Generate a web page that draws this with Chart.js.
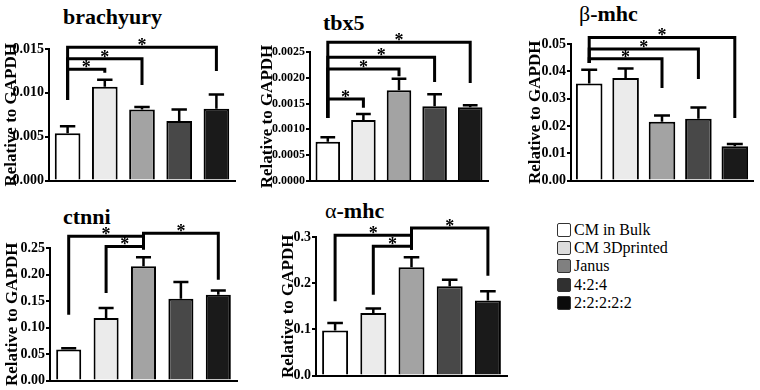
<!DOCTYPE html>
<html>
<head>
<meta charset="utf-8">
<script src="https://cdn.jsdelivr.net/npm/chart.js@4"></script>
<style>
  body { margin: 0; background: #fff; width: 760px; height: 390px; position: relative; overflow: hidden; font-family: "Liberation Serif", "Times New Roman", serif; }
  .panel { position: absolute; }
  .title { position: absolute; font-weight: bold; font-size: 22px; line-height: 22px; white-space: nowrap; color: #000; }
  .title .greek { font-weight: normal; }
  #legend { position: absolute; left: 557px; top: 221px; font-size: 16px; color: #000; font-family: "Liberation Serif", serif; }
  .row { display: flex; align-items: center; height: 18.2px; }
  .box { width: 12px; height: 12px; border: 1px solid #333; border-radius: 2px; margin-right: 3px; box-sizing: content-box; }
</style>
</head>
<body>

<div class="title" style="left:63px; top:6px;">brachyury</div>
<div class="title" style="left:323px; top:12px;">tbx5</div>
<div class="title" style="left:579px; top:3px;"><span class="greek">β</span>-mhc</div>
<div class="title" style="left:63px; top:206px;">ctnni</div>
<div class="title" style="left:325px; top:200px;"><span class="greek">α</span>-mhc</div>

<div id="legend"></div>

<div class="panel" id="p-brachyury"><canvas></canvas></div>
<div class="panel" id="p-tbx5"><canvas></canvas></div>
<div class="panel" id="p-bmhc"><canvas></canvas></div>
<div class="panel" id="p-ctnni"><canvas></canvas></div>
<div class="panel" id="p-amhc"><canvas></canvas></div>

<script>
const groups = ['CM in Bulk', 'CM 3Dprinted', 'Janus', '4:2:4', '2:2:2:2:2'];
const barColors = ['#ffffff', '#ebebeb', '#a3a3a3', '#484848', '#1a1a1a'];
const legendColors = ['#ffffff', '#dcdcdc', '#808080', '#303030', '#0b0b0b'];

// mean, sem (upper error), significance brackets [from, to, level, fromEnd, toEnd]
const brachyuryMean = [0.0054, 0.0107, 0.0081, 0.0068, 0.0082];
const brachyurySem = [0.0008, 0.0008, 0.0003, 0.0013, 0.0016];
const brachyurySig = [[0, 4, 0.0152, 0.0092, 0.0125], [0, 2, 0.0139, 0.0092, 0.0109], [0, 1, 0.0127, 0.0092, 0.0123]];
const brachyuryTicks = ['0.000', '0.005', '0.010', '0.015'];

const tbx5Mean = [0.00076, 0.00118, 0.00176, 0.00145, 0.00143];
const tbx5Sem = [0.00009, 0.00012, 0.00022, 0.00023, 0.00004];
const tbx5Sig = [[0, 4, 0.00269, 0.00122, 0.0019], [0, 3, 0.0024, 0.00122, 0.00192], [0, 2, 0.00217, 0.00122, 0.00203], [0, 1, 0.00159, 0.00122, 0.00142]];
const tbx5Ticks = ['0.0000', '0.0005', '0.0010', '0.0015', '0.0020', '0.0025'];

const bmhcMean = [0.0355, 0.0376, 0.0215, 0.0226, 0.0126];
const bmhcSem = [0.0051, 0.0034, 0.0023, 0.0042, 0.0008];
const bmhcSig = [[0, 4, 0.0524, 0.043, 0.0229], [0, 3, 0.0482, 0.043, 0.0372], [0, 2, 0.0446, 0.043, 0.0339]];
const bmhcTicks = ['0.00', '0.01', '0.02', '0.03', '0.04', '0.05'];

const ctnniMean = [0.0584, 0.118, 0.2155, 0.1545, 0.162];
const ctnniSem = [0.0025, 0.019, 0.017, 0.0315, 0.008];
const ctnniSig = [[0, 2, 0.272, 0.124, 0.272], [1, 2, 0.253, 0.165, 0.247], [2, 4, 0.278, 0.247, 0.190]];
const ctnniTicks = ['0.00', '0.05', '0.10', '0.15', '0.20', '0.25'];

const amhcMean = [0.0974, 0.1356, 0.2344, 0.1933, 0.1623];
const amhcSem = [0.0165, 0.0094, 0.0216, 0.0144, 0.0202];
const amhcSig = [[0, 2, 0.3036, 0.161, 0.3036], [1, 2, 0.280, 0.175, 0.2726], [2, 4, 0.3195, 0.2726, 0.2163]];
const amhcTicks = ['0.0', '0.1', '0.2', '0.3'];

// where each plot area sits on the page
const panels = [
  { id: 'p-brachyury', mean: brachyuryMean, sem: brachyurySem, sig: brachyurySig, ticks: brachyuryTicks, left: 49, top: 49, right: 235, bottom: 181, axisW: 48, bar: 0.69, tickSize: 14 },
  { id: 'p-tbx5', mean: tbx5Mean, sem: tbx5Sem, sig: tbx5Sig, ticks: tbx5Ticks, left: 310, top: 52, right: 488, bottom: 181, axisW: 53, bar: 0.69, tickSize: 12 },
  { id: 'p-bmhc', mean: bmhcMean, sem: bmhcSem, sig: bmhcSig, ticks: bmhcTicks, left: 571, top: 44, right: 753, bottom: 181, axisW: 46, bar: 0.73, tickSize: 14 },
  { id: 'p-ctnni', mean: ctnniMean, sem: ctnniSem, sig: ctnniSig, ticks: ctnniTicks, left: 50, top: 248, right: 237, bottom: 381, axisW: 48, bar: 0.67, tickSize: 14 },
  { id: 'p-amhc', mean: amhcMean, sem: amhcSem, sig: amhcSig, ticks: amhcTicks, left: 316, top: 237, right: 507, bottom: 376, axisW: 38, bar: 0.68, tickSize: 14 },
];

const padTop = 30;
const padBottom = 9;
const padRight = 4;
const serif = "'Liberation Serif', 'Times New Roman', serif";

function makeMarks(mean, sem, sig) {
  return {
    id: 'marks',
    afterDatasetsDraw(chart) {
      const ctx = chart.ctx;
      const y = chart.scales.y;
      const bars = chart.getDatasetMeta(0).data;

      ctx.save();
      ctx.strokeStyle = '#000';
      ctx.fillStyle = '#000';

      // error bars
      ctx.lineWidth = 2.5;
      bars.forEach(function (b, i) {
        const top = y.getPixelForValue(mean[i] + sem[i]);
        const half = b.width * 0.3;
        ctx.beginPath();
        ctx.moveTo(b.x, b.y);
        ctx.lineTo(b.x, top);
        ctx.moveTo(b.x - half, top);
        ctx.lineTo(b.x + half, top);
        ctx.stroke();
      });

      // significance brackets
      ctx.lineWidth = 3;
      ctx.lineJoin = 'miter';
      ctx.font = 'bold 18px ' + serif;
      ctx.textAlign = 'center';
      ctx.textBaseline = 'alphabetic';
      sig.forEach(function (s) {
        const x0 = bars[s[0]].x;
        const x1 = bars[s[1]].x;
        const level = y.getPixelForValue(s[2]);
        ctx.beginPath();
        ctx.moveTo(x0, y.getPixelForValue(s[3]));
        ctx.lineTo(x0, level);
        ctx.lineTo(x1, level);
        ctx.lineTo(x1, y.getPixelForValue(s[4]));
        ctx.stroke();
        ctx.fillText('*', (x0 + x1) / 2, level + 4);
      });
      ctx.restore();
    },
  };
}

function drawPanel(p) {
  const box = document.getElementById(p.id);
  const boxLeft = p.left - p.axisW;
  const boxTop = p.top - padTop;
  box.style.left = boxLeft + 'px';
  box.style.top = boxTop + 'px';
  box.style.width = (p.right - boxLeft + padRight) + 'px';
  box.style.height = (p.bottom - boxTop + padBottom) + 'px';

  const labels = p.ticks;
  new Chart(box.querySelector('canvas'), {
    type: 'bar',
    data: {
      labels: groups,
      datasets: [
        {
          data: p.mean,
          backgroundColor: barColors,
          borderColor: '#000',
          borderWidth: 2,
          barPercentage: 1,
          categoryPercentage: p.bar,
        },
      ],
    },
    options: {
      responsive: true,
      maintainAspectRatio: false,
      animation: false,
      devicePixelRatio: 1,
      layout: { padding: { left: 0, top: padTop, right: padRight, bottom: padBottom } },
      plugins: { legend: { display: false }, tooltip: { enabled: false } },
      scales: {
        x: {
          afterFit: function (s) { s.height = 0; },
          grid: { display: false },
          ticks: { display: false },
          border: { color: '#000', width: 2 },
        },
        y: {
          min: 0,
          max: parseFloat(labels[labels.length - 1]),
          afterFit: function (s) { s.width = p.axisW; },
          afterBuildTicks: function (s) {
            s.ticks = labels.map(function (t) { return { value: parseFloat(t) }; });
          },
          border: { color: '#000', width: 2 },
          grid: { display: true, drawOnChartArea: false, drawTicks: true, tickLength: 4, color: '#000', lineWidth: 2 },
          ticks: {
            color: '#000',
            padding: 1,
            font: { family: serif, weight: 'bold', size: p.tickSize },
            callback: function (v, i) { return labels[i]; },
          },
          title: {
            display: true,
            text: 'Relative to GAPDH',
            color: '#000',
            padding: { top: 0, bottom: 0 },
            font: { family: serif, weight: 'bold', size: 17 },
          },
        },
      },
    },
    plugins: [makeMarks(p.mean, p.sem, p.sig)],
  });
}

panels.forEach(drawPanel);

const legend = document.getElementById('legend');
for (let i = 0; i < groups.length; i++) {
  const row = document.createElement('div');
  row.className = 'row';
  const sw = document.createElement('span');
  sw.className = 'box';
  sw.style.background = legendColors[i];
  const label = document.createElement('span');
  label.textContent = groups[i];
  row.appendChild(sw);
  row.appendChild(label);
  legend.appendChild(row);
}
</script>
</body>
</html>
